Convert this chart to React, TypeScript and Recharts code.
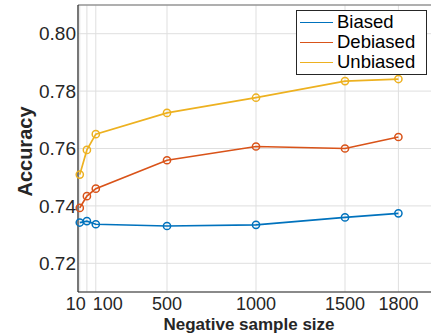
import {
  LineChart,
  Line,
  XAxis,
  YAxis,
  CartesianGrid,
  Legend,
  ReferenceLine,
} from 'recharts';

const sampleSizes = [10, 50, 100, 500, 1000, 1500, 1800];
const biased = [0.7342, 0.7347, 0.7336, 0.733, 0.7334, 0.736, 0.7374];
const debiased = [0.7393, 0.7434, 0.746, 0.7559, 0.7607, 0.76, 0.764];
const unbiased = [0.7509, 0.7595, 0.765, 0.7724, 0.7777, 0.7835, 0.7842];

const xTicks = [10, 50, 100, 500, 1000, 1500, 1800];
const xTickLabels = ['10', '', '100', '500', '1000', '1500', '1800'];
const xTickShift = [-4, 0, 12, 0, 0, 0, 0];
const yTicks = [0.72, 0.74, 0.76, 0.78, 0.8];

const seriesNames = ['Biased', 'Debiased', 'Unbiased'];
const seriesColors = ['#0072BD', '#D95319', '#EDB120'];
const seriesKeys = ['biased', 'debiased', 'unbiased'];

const data = sampleSizes.map((n, i) => ({
  n,
  biased: biased[i],
  debiased: debiased[i],
  unbiased: unbiased[i],
}));

const FONT = '"Liberation Sans", Arial, Helvetica, sans-serif';
const AXIS_COLOR = '#262626';

function XTick(props: any) {
  const { x, y, payload } = props;
  const i = xTicks.indexOf(payload.value);
  const label = i >= 0 ? xTickLabels[i] : String(payload.value);
  const shift = i >= 0 ? xTickShift[i] : 0;
  return (
    <text
      x={x + shift}
      y={y}
      dy={12}
      textAnchor="middle"
      fontSize={18}
      fontFamily={FONT}
      fill={AXIS_COLOR}
    >
      {label}
    </text>
  );
}

function LegendBox() {
  return (
    <div
      style={{
        border: '1px solid #262626',
        background: '#fff',
        padding: '1px 0 2px 0',
        fontFamily: FONT,
        fontSize: 18.5,
        color: '#000',
        width: 131,
        boxSizing: 'border-box',
      }}
    >
      {seriesNames.map((name, i) => (
        <div
          key={name}
          style={{ display: 'flex', alignItems: 'center', height: 20 }}
        >
          <div
            style={{
              width: 33,
              height: 0,
              borderTop: `1.5px solid ${seriesColors[i]}`,
              marginLeft: 3,
              marginRight: 4,
            }}
          />
          <span style={{ lineHeight: '20px' }}>{name}</span>
        </div>
      ))}
    </div>
  );
}

export default function App() {
  return (
    <div
      style={{
        position: 'fixed',
        left: 0,
        top: 0,
        width: 431,
        height: 334,
        overflow: 'hidden',
        background: '#fff',
      }}
    >
      <LineChart
        width={436}
        height={334}
        data={data}
        margin={{ top: 5, right: 2, left: 0, bottom: 0 }}
      >
        <CartesianGrid stroke="#dfdfdf" strokeWidth={1} />
        <XAxis
          dataKey="n"
          type="number"
          domain={[0, 2000]}
          ticks={xTicks}
          interval={0}
          tick={<XTick />}
          tickLine={false}
          tickSize={0}
          tickMargin={6}
          height={42}
          axisLine={{ stroke: AXIS_COLOR, strokeWidth: 1.2 }}
          label={{
            content: (p: any) => {
              const vb = p.viewBox;
              return (
                <text
                  x={vb.x + vb.width / 2 - 7}
                  y={vb.y + vb.height - 4}
                  textAnchor="middle"
                  fontSize={17}
                  fontWeight="bold"
                  fontFamily={FONT}
                  fill={AXIS_COLOR}
                >
                  Negative sample size
                </text>
              );
            },
          }}
        />
        <YAxis
          type="number"
          domain={[0.71, 0.81]}
          ticks={yTicks}
          interval={0}
          width={78}
          tickLine={false}
          tickSize={0}
          tickMargin={2}
          tickFormatter={(v: number) => v.toFixed(2)}
          tick={{ fontSize: 19, fill: AXIS_COLOR, fontFamily: FONT }}
          axisLine={{ stroke: AXIS_COLOR, strokeWidth: 1.2 }}
          label={{
            content: (p: any) => {
              const vb = p.viewBox;
              const cx = 25;
              const cy = vb.y + vb.height / 2 + 3;
              return (
                <text
                  x={cx}
                  y={cy}
                  transform={`rotate(-90 ${cx} ${cy})`}
                  textAnchor="middle"
                  dominantBaseline="central"
                  fontSize={20}
                  fontWeight="bold"
                  fontFamily={FONT}
                  fill={AXIS_COLOR}
                >
                  Accuracy
                </text>
              );
            },
          }}
        />
        <ReferenceLine y={0.81} stroke="#707070" strokeWidth={1.2} />
        {seriesKeys.map((key, i) => (
          <Line
            key={key}
            type="linear"
            dataKey={key}
            name={seriesNames[i]}
            stroke={seriesColors[i]}
            strokeWidth={1.7}
            dot={{ r: 3.6, stroke: seriesColors[i], strokeWidth: 1.5, fill: 'none' }}
            isAnimationActive={false}
          />
        ))}
        <Legend
          layout="vertical"
          align="center"
          verticalAlign="middle"
          content={<LegendBox />}
          wrapperStyle={{ position: 'absolute', left: 296, top: 10, width: 131 }}
        />
      </LineChart>
    </div>
  );
}
